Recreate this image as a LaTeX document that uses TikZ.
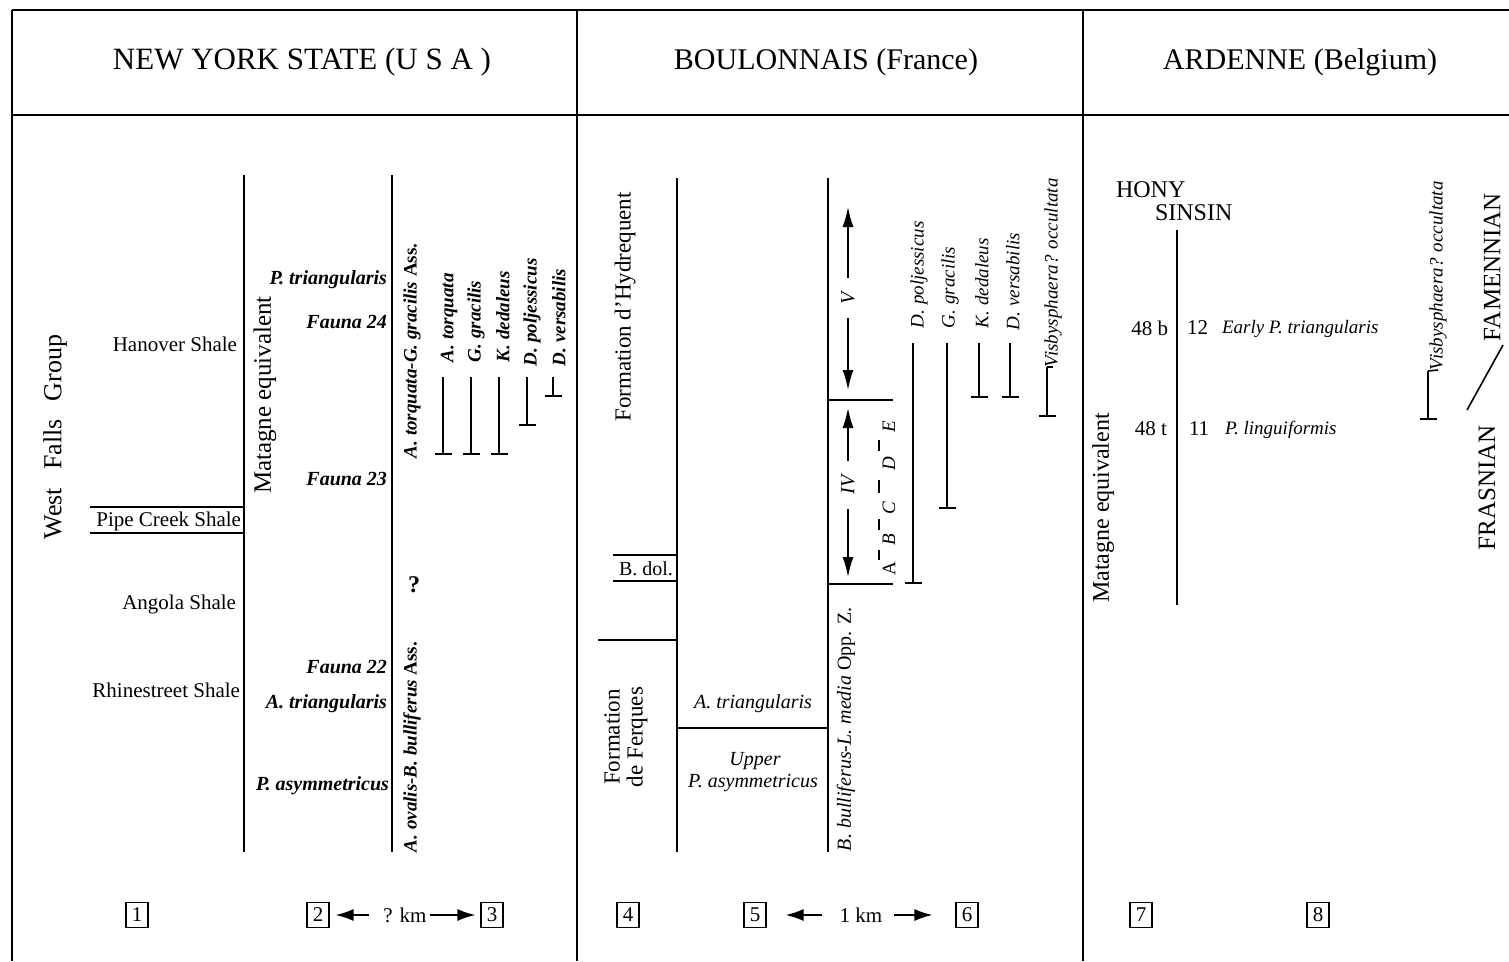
\documentclass[tikz,border=0pt]{standalone}
\usepackage{fontspec}
\setmainfont{Liberation Serif}
\usetikzlibrary{arrows.meta}
\newcommand\myfs[1]{\fontsize{#1}{#1}\selectfont}
\begin{document}
\begin{tikzpicture}[x=1pt,y=-1pt,
  frame/.style={line width=2.4pt},
  rule/.style={line width=2pt},
  thinrule/.style={line width=1.6pt},
  lbl/.style={inner sep=0pt, outer sep=0pt},
  rot/.style={rotate=90, inner sep=0pt, outer sep=0pt},
  rng/.style={line width=1.6pt, -{Bar[width=17pt,line width=1.6pt]}},
  dbl/.style={line width=1.6pt, -{Latex[length=20pt,width=11pt]}},
  kmarr/.style={line width=1.6pt, -{Latex[length=18pt,width=12pt]}},
  nbox/.style={draw, line width=1.2pt, minimum width=22pt, minimum height=25pt, inner sep=0pt, font=\myfs{21}},
  bi/.style={font=\myfs{20}\bfseries\itshape},
  spp/.style={rot, anchor=west, font=\myfs{19}\bfseries\itshape},
  spq/.style={rot, anchor=west, font=\myfs{19}\itshape},
]
\useasboundingbox (0,0) rectangle (1509,961);
\fill[white] (0,0) rectangle (1509,961);

% frame
\draw[frame] (12,10) -- (1509,10);
\draw[frame] (12,115) -- (1509,115);
\draw[rule] (12,10) -- (12,961);
\draw[rule] (577,10) -- (577,961);
\draw[rule] (1083,10) -- (1083,961);

% titles
\node[lbl, font=\myfs{31}] (t1) at (302,62) {NEW YORK STATE (U S A )};
\node[lbl, font=\myfs{30}] (t2) at (826,62) {BOULONNAIS (France)};
\node[lbl, font=\myfs{30}] (t3) at (1300,62) {ARDENNE (Belgium)};

% ---------------- New York ----------------
\node[rot, font=\myfs{26}] (wfg) at (55,437) {West\hspace{0.7em}Falls\hspace{0.7em}Group};
\draw[rule] (244,175) -- (244,852);
\node[lbl, anchor=east, font=\myfs{21}] (han) at (237,344) {Hanover Shale};
\draw[thinrule] (90,507) -- (244,507);
\draw[thinrule] (90,533) -- (244,533);
\node[lbl, anchor=east, font=\myfs{21}] (pcs) at (241,521) {Pipe Creek Shale};
\node[lbl, anchor=east, font=\myfs{21}] (ang) at (236,604) {Angola Shale};
\node[lbl, anchor=east, font=\myfs{21}] (rhi) at (240,690) {Rhinestreet Shale};
\node[rot, font=\myfs{25}] (mat1) at (265,395) {Matagne equivalent};

\draw[rule] (392,175) -- (392,852);
\node[lbl, anchor=east, bi] (ptri) at (387,280) {P. triangularis};
\node[lbl, anchor=east, bi] (f24) at (387,322) {Fauna 24};
\node[lbl, anchor=east, bi] (f23) at (387,479) {Fauna 23};
\node[lbl, anchor=east, bi] (f22) at (387,667) {Fauna 22};
\node[lbl, anchor=east, bi] (atri) at (387,704) {A. triangularis};
\node[lbl, anchor=east, bi] (pasy) at (389,786) {P. asymmetricus};

\node[rot, anchor=west, font=\myfs{19}\bfseries] (ass1) at (412,458) {\itshape A. torquata-G. gracilis\upshape{} Ass.};
\node[rot, anchor=west, font=\myfs{19}\bfseries] (ass2) at (412,852) {\itshape A. ovalis-B. bulliferus\upshape{} Ass.};
\node[lbl, font=\myfs{24}\bfseries] (qm) at (414,585) {?};

\node[spp] (s1) at (449,362) {A. torquata};
\node[spp] (s2) at (476,362) {G. gracilis};
\node[spp] (s3) at (503,362) {K. dedaleus};
\node[spp] (s4) at (532,366) {D. poljessicus};
\node[spp] (s5) at (559,366) {D. versabilis};
\draw[rng] (443,377) -- (443,455);
\draw[rng] (471,377) -- (471,455);
\draw[rng] (499,377) -- (499,455);
\draw[rng] (527,377) -- (527,426);
\draw[rng] (553,377) -- (553,397);

% ---------------- Boulonnais ----------------
\node[rot, font=\myfs{23}] (fhyd) at (625,307) {Formation d'Hydrequent};
\draw[rule] (677,178) -- (677,852);
\draw[thinrule] (613,555) -- (677,555);
\draw[thinrule] (613,581) -- (677,581);
\node[lbl, font=\myfs{20}] (bdol) at (646,569) {B. dol.};
\draw[thinrule] (598,640) -- (677,640);
\node[rot, align=center, font={\fontsize{23}{23}\selectfont}] (ffer) at (626,737) {Formation\\de Ferques};
\node[lbl, font=\myfs{20}\itshape] (atri2) at (753,704) {A. triangularis};
\draw[thinrule] (677,728) -- (828,728);
\node[lbl, font=\myfs{20}\itshape] (upp) at (755,761) {Upper};
\node[lbl, font=\myfs{20}\itshape] (pasy2) at (753,783) {P. asymmetricus};
\draw[rule] (828,178) -- (828,852);
\node[rot, anchor=west, font=\myfs{20}] (bbul) at (846,851) {\itshape B. bulliferus-L. media\upshape{} Opp. Z.};

\draw[thinrule] (828,400) -- (893,400);
\draw[thinrule] (828,584) -- (893,584);
\node[rot, font=\myfs{20}\itshape, inner xsep=14pt] (zV) at (848,298) {V};
\draw[dbl] (zV.east) -- (848,207);
\draw[dbl] (zV.west) -- (848,390);
\node[rot, font=\myfs{20}\itshape, inner xsep=15pt] (zIV) at (848,485) {IV};
\draw[dbl] (zIV.east) -- (848,408);
\draw[dbl] (zIV.west) -- (848,577);

\node[rot, font=\myfs{19}] (zA) at (889,569) {A};
\node[rot, font=\myfs{19}\itshape] (zB) at (889,540) {B};
\node[rot, font=\myfs{19}\itshape] (zC) at (889,508) {C};
\node[rot, font=\myfs{19}\itshape] (zD) at (889,464) {D};
\node[rot, font=\myfs{19}\itshape] (zE) at (889,427) {E};
\draw[line width=1.4pt] (879,550) -- (879,560);
\draw[line width=1.4pt] (879,519) -- (879,530);
\draw[line width=1.4pt] (879,480) -- (879,493);
\draw[line width=1.4pt] (879,440) -- (879,451);

\node[spq] (b1) at (919,328) {D. poljessicus};
\node[spq] (b2s) at (950,328) {G. gracilis};
\node[spq] (b3s) at (982,328) {K. dedaleus};
\node[spq] (b4s) at (1013,330) {D. versabilis};
\node[spq] (b5s) at (1053,367) {Visbysphaera? occultata};
\draw[rng] (913,343) -- (913,584);
\draw[rng] (947,343) -- (947,509);
\draw[rng] (979,343) -- (979,398);
\draw[rng] (1010,343) -- (1010,398);
\draw[line width=1.6pt] (b5s.west) -- (1047,367);
\draw[rng] (1047,367) -- (1047,417);

% ---------------- Ardenne ----------------
\node[lbl, anchor=west, font=\myfs{24}] (hony) at (1116,190) {HONY};
\node[lbl, anchor=west, font=\myfs{24}] (sins) at (1155,213) {SINSIN};
\draw[thinrule] (1177,230) -- (1177,605);
\node[lbl, anchor=east, font=\myfs{21}] (n48b) at (1168,328) {48 b};
\node[lbl, anchor=west, font=\myfs{21}] (n12) at (1187,328) {12};
\node[lbl, anchor=west, font=\myfs{19}\itshape] (ept) at (1222,329) {Early P. triangularis};
\node[lbl, anchor=east, font=\myfs{21}] (n48t) at (1167,429) {48 t};
\node[lbl, anchor=west, font=\myfs{21}] (n11) at (1189,429) {11};
\node[lbl, anchor=west, font=\myfs{19}\itshape] (pli) at (1225,430) {P. linguiformis};
\node[rot, font=\myfs{24}] (mat2) at (1103,508) {Matagne equivalent};
\node[spq] (vis2) at (1438,370) {Visbysphaera? occultata};
\draw[line width=1.6pt] (vis2.west) -- (1428,371);
\draw[rng] (1428,371) -- (1428,420);
\node[rot, font=\myfs{25}] (fam) at (1492,267) {FAMENNIAN};
\node[rot, font=\myfs{25}] (fra) at (1487,488) {FRASNIAN};
\coordinate (dg1) at (1467,410);
\coordinate (dg2) at (1503,345);
\draw[line width=1.6pt] (dg1) -- (dg2);

% ---------------- bottom numbers ----------------
\node[nbox] (c1) at (137,915) {1};
\node[nbox] (c2) at (318,915) {2};
\node[nbox] (c3) at (492,915) {3};
\node[nbox] (c4) at (628,915) {4};
\node[nbox] (c5) at (755,915) {5};
\node[nbox] (c6) at (967,915) {6};
\node[nbox] (c7) at (1141,915) {7};
\node[nbox] (c8) at (1318,915) {8};
\node[lbl, font=\myfs{21}] (km1) at (405,915) {? km};
\draw[kmarr] ([xshift=-14pt]km1.west) -- ([xshift=6pt]c2.east);
\draw[kmarr] ([xshift=3pt]km1.east) -- ([xshift=-5pt]c3.west);
\node[lbl, font=\myfs{21}] (km2) at (861,915) {1 km};
\draw[kmarr] ([xshift=-18pt]km2.west) -- ([xshift=19pt]c5.east);
\draw[kmarr] ([xshift=12pt]km2.east) -- ([xshift=-23pt]c6.west);
\end{tikzpicture}
\end{document}
